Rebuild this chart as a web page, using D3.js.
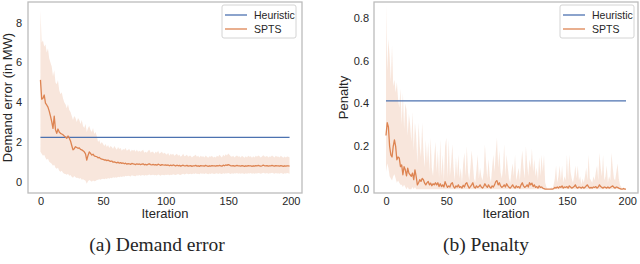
<!DOCTYPE html>
<html>
<head>
<meta charset="utf-8">
<script src="https://cdn.jsdelivr.net/npm/d3@7"></script>
<style>
  body { margin: 0; background: #fff; }
  svg { display: block; }
  text { font-family: "Liberation Sans", Arial, sans-serif; fill: #262626; }
</style>
</head>
<body>
<svg id="chart" width="640" height="264"></svg>
<script>
// x ticks shared by both panels
const iterTicks = [0, 50, 100, 150, 200];
const demandTicks = [0, 2, 4, 6, 8];
const penaltyTicks = [0, 0.2, 0.4, 0.6, 0.8];
const seriesNames = ['Heuristic', 'SPTS'];

// heuristic baseline (flat)
const demandHeuristic = 2.23;
const penaltyHeuristic = 0.412;

// SPTS mean per iteration, 0..199
const demandMean = [
  5.12, 4.15, 4.2, 4.36, 3.95, 3.86, 3.75, 3.55, 3.3, 3.02,
  2.68, 3.3, 2.62, 2.43, 2.65, 2.5, 2.43, 2.4, 2.36, 2.3,
  2.25, 2.18, 2.3, 2.2, 2.05, 1.82, 1.6, 1.66, 1.76, 1.72,
  1.68, 1.7, 1.62, 1.6, 1.55, 1.5, 1.4, 1.09, 1.32, 1.5,
  1.42, 1.34, 1.38, 1.3, 1.27, 1.26, 1.2, 1.22, 1.16, 1.14,
  1.12, 1.09, 1.1, 1.06, 1.08, 1.05, 1.02, 1.04, 0.98, 1.0,
  0.97, 0.95, 0.98, 0.93, 0.96, 0.92, 0.94, 0.9, 0.93, 0.88,
  0.91, 0.9, 0.87, 0.92, 0.9, 0.88, 0.86, 0.9, 0.87, 0.89,
  0.86, 0.88, 0.9, 0.85, 0.87, 0.84, 0.88, 0.9, 0.86, 0.85,
  0.87, 0.84, 0.86, 0.83, 0.88, 0.85, 0.82, 0.86, 0.84, 0.83,
  0.85, 0.82, 0.84, 0.8, 0.83, 0.81, 0.84, 0.82, 0.79, 0.83,
  0.8, 0.82, 0.78, 0.81, 0.83, 0.79, 0.8, 0.82, 0.78, 0.8,
  0.81, 0.77, 0.8, 0.79, 0.82, 0.78, 0.8, 0.77, 0.81, 0.79,
  0.8, 0.78, 0.82, 0.79, 0.77, 0.8, 0.78, 0.81, 0.79, 0.8,
  0.78, 0.81, 0.79, 0.82, 0.8, 0.78, 0.83, 0.8, 0.84, 0.82,
  0.86, 0.83, 0.8, 0.79, 0.81, 0.78, 0.8, 0.82, 0.79, 0.8,
  0.78, 0.81, 0.79, 0.77, 0.8, 0.78, 0.81, 0.79, 0.8, 0.77,
  0.8, 0.78, 0.81, 0.79, 0.82, 0.8, 0.78, 0.8, 0.83, 0.8,
  0.79, 0.81, 0.78, 0.8, 0.79, 0.82, 0.8, 0.78, 0.81, 0.79,
  0.8, 0.78, 0.81, 0.79, 0.77, 0.8, 0.78, 0.8, 0.79, 0.78
];
const demandHigh = [
  8.6, 7.0, 7.1, 6.8, 6.9, 6.5, 6.7, 6.2, 6.0, 5.8,
  5.3, 5.6, 5.0, 4.9, 5.1, 4.6, 4.4, 4.5, 4.2, 4.0,
  3.9, 3.7, 3.9, 3.6, 3.5, 3.3, 3.1, 3.3, 3.2, 3.0,
  3.2, 3.1, 2.9, 3.1, 2.8, 2.7, 2.9, 2.5, 2.7, 2.8,
  2.6, 2.5, 2.7, 2.4, 2.5, 2.3, 2.0, 2.1, 1.9, 2.0,
  1.9, 1.8, 1.9, 1.75, 1.85, 1.7, 1.8, 1.75, 1.65, 1.8,
  1.7, 1.6, 1.75, 1.65, 1.7, 1.55, 1.65, 1.6, 1.7, 1.55,
  1.6, 1.65, 1.5, 1.6, 1.55, 1.6, 1.5, 1.6, 1.5, 1.55,
  1.5, 1.55, 1.6, 1.45, 1.5, 1.45, 1.55, 1.6, 1.45, 1.5,
  1.5, 1.4, 1.5, 1.45, 1.55, 1.4, 1.45, 1.5, 1.4, 1.45,
  1.4, 1.35, 1.45, 1.3, 1.4, 1.35, 1.4, 1.3, 1.35, 1.4,
  1.3, 1.35, 1.25, 1.3, 1.4, 1.28, 1.3, 1.35, 1.25, 1.3,
  1.3, 1.22, 1.28, 1.3, 1.35, 1.25, 1.3, 1.22, 1.3, 1.25,
  1.28, 1.22, 1.32, 1.25, 1.2, 1.28, 1.25, 1.3, 1.22, 1.25,
  1.22, 1.3, 1.25, 1.35, 1.28, 1.22, 1.35, 1.28, 1.38, 1.32,
  1.42, 1.35, 1.28, 1.25, 1.3, 1.22, 1.28, 1.32, 1.25, 1.28,
  1.22, 1.3, 1.25, 1.2, 1.28, 1.22, 1.3, 1.25, 1.28, 1.2,
  1.28, 1.22, 1.3, 1.25, 1.32, 1.28, 1.22, 1.27, 1.33, 1.27,
  1.25, 1.3, 1.22, 1.27, 1.25, 1.32, 1.27, 1.22, 1.3, 1.25,
  1.27, 1.22, 1.3, 1.25, 1.2, 1.27, 1.22, 1.27, 1.25, 1.22
];
const demandLow = [
  1.5, 1.4, 1.3, 1.35, 1.2, 1.1, 1.15, 1.0, 0.95, 0.9,
  0.8, 0.85, 0.7, 0.65, 0.7, 0.55, 0.5, 0.55, 0.45, 0.4,
  0.38, 0.35, 0.4, 0.3, 0.34, 0.25, 0.2, 0.28, 0.22, 0.18,
  0.2, 0.15, 0.18, 0.1, 0.12, 0.08, 0.05, -0.1, 0.02, 0.08,
  0.05, 0.0, 0.06, 0.02, 0.04, 0.08, 0.1, 0.12, 0.1, 0.14,
  0.15, 0.12, 0.16, 0.14, 0.18, 0.15, 0.2, 0.17, 0.22, 0.2,
  0.22, 0.2, 0.25, 0.22, 0.26, 0.24, 0.27, 0.25, 0.3, 0.27,
  0.3, 0.28, 0.26, 0.32, 0.3, 0.28, 0.27, 0.32, 0.3, 0.33,
  0.3, 0.32, 0.34, 0.3, 0.33, 0.31, 0.34, 0.36, 0.32, 0.33,
  0.35, 0.32, 0.34, 0.31, 0.36, 0.33, 0.3, 0.35, 0.33, 0.32,
  0.35, 0.33, 0.36, 0.32, 0.35, 0.34, 0.37, 0.35, 0.33, 0.36,
  0.38, 0.35, 0.33, 0.37, 0.4, 0.36, 0.38, 0.41, 0.37, 0.39,
  0.4, 0.37, 0.41, 0.38, 0.42, 0.39, 0.4, 0.37, 0.42, 0.4,
  0.41, 0.38, 0.43, 0.4, 0.37, 0.41, 0.39, 0.42, 0.4, 0.38,
  0.41, 0.43, 0.39, 0.42, 0.4, 0.38, 0.42, 0.4, 0.43, 0.41,
  0.44, 0.41, 0.39, 0.42, 0.4, 0.43, 0.41, 0.44, 0.4, 0.42,
  0.4, 0.43, 0.41, 0.38, 0.42, 0.4, 0.43, 0.41, 0.44, 0.4,
  0.42, 0.4, 0.43, 0.41, 0.44, 0.42, 0.4, 0.43, 0.45, 0.42,
  0.41, 0.44, 0.4, 0.43, 0.42, 0.45, 0.42, 0.4, 0.44, 0.41,
  0.43, 0.4, 0.44, 0.42, 0.39, 0.43, 0.41, 0.44, 0.42, 0.4
];

const penaltyMean = [
  0.25, 0.31, 0.29, 0.2, 0.16, 0.15, 0.2, 0.23, 0.2, 0.137,
  0.15, 0.145, 0.105, 0.113, 0.067, 0.105, 0.09, 0.062, 0.098, 0.075,
  0.067, 0.06, 0.075, 0.044, 0.09, 0.06, 0.02, 0.03, 0.044, 0.036,
  0.05, 0.044, 0.028, 0.02, 0.03, 0.036, 0.02, 0.028, 0.016, 0.025,
  0.02, 0.03, 0.02, 0.03, 0.012, 0.025, 0.012, 0.02, 0.01, 0.035,
  0.02, 0.008, 0.015, 0.01, 0.025, 0.03, 0.012, 0.005, 0.015, 0.01,
  0.02, 0.008, 0.012, 0.005, 0.018, 0.01, 0.025, 0.03, 0.015, 0.005,
  0.012, 0.02, 0.03, 0.01, 0.005, 0.015, 0.008, 0.012, 0.02, 0.01,
  0.005, 0.012, 0.025, 0.015, 0.008, 0.02, 0.01, 0.005, 0.015, 0.01,
  0.02, 0.035, 0.04, 0.02, 0.03, 0.015, 0.008, 0.012, 0.02, 0.01,
  0.025, 0.015, 0.008, 0.005, 0.012, 0.02, 0.01, 0.005, 0.015, 0.008,
  0.012, 0.005, 0.02, 0.03, 0.015, 0.008, 0.012, 0.02, 0.01, 0.03,
  0.02, 0.028, 0.012, 0.02, 0.008, 0.012, 0.005, 0.015, 0.008, 0.01,
  0.005, 0.002, 0.0, 0.0, 0.0, 0.0, 0.0, 0.0, 0.0, 0.002,
  0.008, 0.005, 0.01, 0.005, 0.012, 0.008, 0.015, 0.005, 0.01, 0.008,
  0.012, 0.005, 0.015, 0.01, 0.005, 0.008, 0.012, 0.02, 0.008, 0.005,
  0.01, 0.008, 0.005, 0.01, 0.005, 0.008, 0.015, 0.02, 0.01, 0.005,
  0.008, 0.005, 0.01, 0.008, 0.012, 0.005, 0.01, 0.02, 0.012, 0.008,
  0.005, 0.01, 0.008, 0.005, 0.01, 0.005, 0.008, 0.012, 0.015, 0.008,
  0.005, 0.01, 0.008, 0.005, 0.002, 0.0, 0.0, 0.002, 0.0, 0.0
];
const penaltyHigh = [
  0.86, 0.55, 0.7, 0.62, 0.5, 0.67, 0.48, 0.51, 0.45, 0.5,
  0.42, 0.38, 0.47, 0.3, 0.45, 0.28, 0.4, 0.37, 0.25, 0.35,
  0.3, 0.22, 0.36, 0.18, 0.31, 0.25, 0.12, 0.31, 0.2, 0.15,
  0.31, 0.18, 0.1, 0.23, 0.12, 0.22, 0.08, 0.24, 0.1, 0.06,
  0.15, 0.22, 0.08, 0.18, 0.05, 0.23, 0.06, 0.16, 0.04, 0.2,
  0.24, 0.05, 0.23, 0.06, 0.12, 0.21, 0.1, 0.04, 0.15, 0.06,
  0.16, 0.05, 0.1, 0.03, 0.12, 0.17, 0.06, 0.2, 0.08, 0.04,
  0.1, 0.18, 0.12, 0.05, 0.03, 0.09, 0.16, 0.05, 0.1, 0.06,
  0.04, 0.08, 0.21, 0.12, 0.05, 0.14, 0.06, 0.03, 0.1, 0.16,
  0.08, 0.17, 0.24, 0.1, 0.18, 0.08, 0.05, 0.1, 0.21, 0.06,
  0.16, 0.1, 0.05, 0.03, 0.08, 0.12, 0.06, 0.16, 0.04, 0.07,
  0.1, 0.04, 0.12, 0.18, 0.1, 0.05, 0.2, 0.12, 0.06, 0.14,
  0.1, 0.19, 0.08, 0.14, 0.06, 0.1, 0.04, 0.15, 0.06, 0.16,
  0.08, 0.16, 0.03, 0.01, 0.0, 0.0, 0.0, 0.01, 0.0, 0.02,
  0.05, 0.11, 0.03, 0.06, 0.11, 0.04, 0.11, 0.03, 0.06, 0.04,
  0.16, 0.04, 0.16, 0.08, 0.05, 0.03, 0.06, 0.11, 0.05, 0.11,
  0.04, 0.06, 0.02, 0.05, 0.03, 0.06, 0.1, 0.04, 0.16, 0.05,
  0.04, 0.03, 0.06, 0.04, 0.08, 0.11, 0.04, 0.17, 0.1, 0.06,
  0.16, 0.04, 0.06, 0.11, 0.03, 0.06, 0.04, 0.17, 0.1, 0.05,
  0.04, 0.08, 0.12, 0.05, 0.02, 0.01, 0.0, 0.01, 0.0, 0.0
];
const penaltyLow = [
  0.08, 0.12, 0.1, 0.06, 0.05, 0.04, 0.06, 0.07, 0.05, 0.03,
  0.04, 0.03, 0.02, 0.02, 0.01, 0.02, 0.01, 0.0, 0.01, 0.0,
  0.0, 0.0, 0.01, 0.0, 0.01, 0.0, 0.0, 0.0, 0.0, 0.0,
  0, 0, 0, 0, 0, 0, 0, 0, 0, 0,
  0, 0, 0, 0, 0, 0, 0, 0, 0, 0,
  0, 0, 0, 0, 0, 0, 0, 0, 0, 0,
  0, 0, 0, 0, 0, 0, 0, 0, 0, 0,
  0, 0, 0, 0, 0, 0, 0, 0, 0, 0,
  0, 0, 0, 0, 0, 0, 0, 0, 0, 0,
  0, 0, 0, 0, 0, 0, 0, 0, 0, 0,
  0, 0, 0, 0, 0, 0, 0, 0, 0, 0,
  0, 0, 0, 0, 0, 0, 0, 0, 0, 0,
  0, 0, 0, 0, 0, 0, 0, 0, 0, 0,
  0, 0, 0, 0, 0, 0, 0, 0, 0, 0,
  0, 0, 0, 0, 0, 0, 0, 0, 0, 0,
  0, 0, 0, 0, 0, 0, 0, 0, 0, 0,
  0, 0, 0, 0, 0, 0, 0, 0, 0, 0,
  0, 0, 0, 0, 0, 0, 0, 0, 0, 0,
  0, 0, 0, 0, 0, 0, 0, 0, 0, 0,
  0, 0, 0, 0, 0, 0, 0, 0, 0, 0
];

const heurColor = '#4c72b0';
const sptsColor = '#dd8452';
const svg = d3.select('#chart');

function drawPanel(p) {
    const x = d3.scaleLinear().domain([-9.95, 208.95]).range([p.left, p.right]);
    const y = d3.scaleLinear().domain(p.yDomain).range([p.bottom, p.top]);
    const g = svg.append('g').attr('id', p.id);

    g.append('clipPath').attr('id', p.id + 'clip')
        .append('rect')
        .attr('x', p.left).attr('y', p.top)
        .attr('width', p.right - p.left).attr('height', p.bottom - p.top);

    const plot = g.append('g').attr('clip-path', 'url(#' + p.id + 'clip)');

    const area = d3.area()
        .x((d, i) => x(i))
        .y0((d, i) => y(p.low[i]))
        .y1((d, i) => y(p.high[i]));
    plot.append('path').datum(p.mean)
        .attr('d', area)
        .attr('fill', sptsColor)
        .attr('fill-opacity', 0.2);

    plot.append('line')
        .attr('x1', x(0)).attr('x2', x(p.mean.length - 1))
        .attr('y1', y(p.heuristic)).attr('y2', y(p.heuristic))
        .attr('stroke', heurColor).attr('stroke-width', 1.3);

    const line = d3.line().x((d, i) => x(i)).y(d => y(d));
    plot.append('path').datum(p.mean)
        .attr('d', line)
        .attr('fill', 'none')
        .attr('stroke', sptsColor)
        .attr('stroke-width', 1.3)
        .attr('stroke-linejoin', 'round');

    // axes, seaborn white style: no tick marks
    g.append('g').attr('transform', 'translate(0,' + p.bottom + ')')
        .call(d3.axisBottom(x).tickValues(iterTicks).tickSize(0).tickPadding(4))
        .call(a => {
            a.select('.domain').remove();
            a.selectAll('text').attr('font-size', '11px').attr('fill', '#262626');
        });
    g.append('g').attr('transform', 'translate(' + p.left + ',0)')
        .call(d3.axisLeft(y).tickValues(p.yTicks).tickSize(0).tickPadding(p.yPad).tickFormat(p.yFormat))
        .call(a => {
            a.select('.domain').remove();
            a.selectAll('text').attr('font-size', '11px').attr('fill', '#262626');
        });

    g.append('rect')
        .attr('x', p.left).attr('y', p.top)
        .attr('width', p.right - p.left).attr('height', p.bottom - p.top)
        .attr('fill', 'none').attr('stroke', '#bcbcbc').attr('stroke-width', 1.3);

    g.append('text')
        .attr('x', (p.left + p.right) / 2).attr('y', 218)
        .attr('text-anchor', 'middle').attr('font-size', '13px')
        .text('Iteration');
    g.append('text')
        .attr('transform', 'translate(' + p.yLabelX + ',' + ((p.top + p.bottom) / 2) + ') rotate(-90)')
        .attr('text-anchor', 'middle').attr('font-size', '13px')
        .text(p.yLabel);

    // legend
    const lg = g.append('g').attr('transform', 'translate(' + p.legendX + ',5)');
    lg.append('rect')
        .attr('width', 74).attr('height', 33).attr('rx', 2)
        .attr('fill', '#fff').attr('fill-opacity', 0.8)
        .attr('stroke', '#d4d4d4').attr('stroke-width', 1);
    seriesNames.forEach((name, k) => {
        const yy = 10 + k * 14;
        lg.append('line')
            .attr('x1', 3).attr('x2', 25).attr('y1', yy).attr('y2', yy)
            .attr('stroke', k === 0 ? heurColor : sptsColor).attr('stroke-width', 1.3);
        lg.append('text')
            .attr('x', 32).attr('y', yy).attr('dy', '0.35em')
            .attr('font-size', '10.5px')
            .text(name);
    });

    svg.append('text')
        .attr('x', p.captionX).attr('y', 251)
        .attr('text-anchor', 'middle')
        .style('font-family', '"Liberation Serif", "Times New Roman", serif')
        .attr('font-size', '19.5px')
        .attr('fill', '#1a1a1a')
        .text(p.caption);
}

drawPanel({
    id: 'demand', left: 28, right: 302, top: 2, bottom: 193,
    yDomain: [-0.57, 9.04], yTicks: demandTicks, yFormat: d3.format('d'), yPad: 6,
    mean: demandMean, high: demandHigh, low: demandLow, heuristic: demandHeuristic,
    yLabel: 'Demand error (in MW)', yLabelX: 12, legendX: 222,
    caption: '(a) Demand error', captionX: 157
});

drawPanel({
    id: 'penalty', left: 374, right: 638, top: 2, bottom: 193,
    yDomain: [-0.018, 0.873], yTicks: penaltyTicks, yFormat: d3.format('.1f'), yPad: 5,
    mean: penaltyMean, high: penaltyHigh, low: penaltyLow, heuristic: penaltyHeuristic,
    yLabel: 'Penalty', yLabelX: 348, legendX: 560,
    caption: '(b) Penalty', captionX: 486
});
</script>
</body>
</html>
